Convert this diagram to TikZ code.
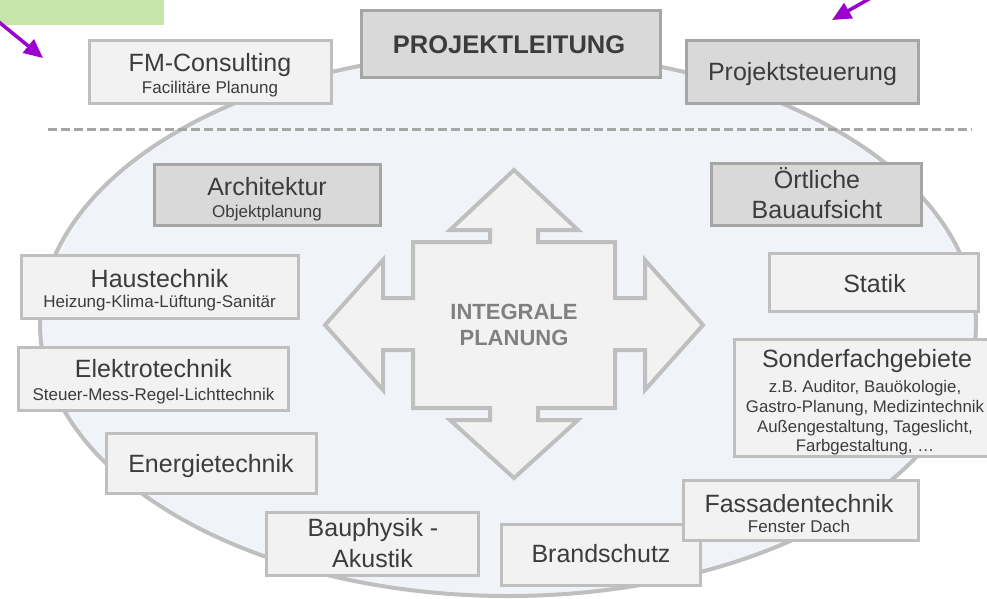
\documentclass[tikz,border=0pt]{standalone}
\usepackage{fontspec}
\setmainfont{Liberation Sans}
\usetikzlibrary{arrows.meta}
\definecolor{lfill}{HTML}{F2F2F2}
\definecolor{lbord}{HTML}{BFBFBF}
\definecolor{dfill}{HTML}{D9D9D9}
\definecolor{dbord}{HTML}{A6A6A6}
\definecolor{ellf}{HTML}{F0F4F9}
\definecolor{ellb}{HTML}{BFBFBF}
\definecolor{txt}{HTML}{3C3C3C}
\definecolor{itxt}{HTML}{808080}
\definecolor{grn}{HTML}{C6E6A9}
\definecolor{purp}{HTML}{9B00CF}
\begin{document}
\begin{tikzpicture}[x=1pt,y=-1pt,
  lbox/.style={draw=lbord, fill=lfill, line width=3pt, inner sep=0pt, rectangle},
  dbox/.style={draw=dbord, fill=dfill, line width=3pt, inner sep=0pt, rectangle},
  ttl/.style={anchor=base, text=txt, font=\fontsize{25}{30}\selectfont, inner sep=0pt},
  subt/.style={anchor=base, text=txt, font=\fontsize{17}{20}\selectfont, inner sep=0pt},
  subs/.style={anchor=base, text=txt, font=\fontsize{16.8}{19}\selectfont, inner sep=0pt},
  ptr/.style={draw=purp, line width=3.5pt, -{Triangle[length=19pt,width=17pt]}},
  dashline/.style={draw=dbord, line width=3pt, dash pattern=on 9pt off 4pt}]
\useasboundingbox (0,0) rectangle (987,598);
\begin{scope}
\clip (0,0) rectangle (987,598);
\fill[white] (0,0) rectangle (987,598);
% big ellipse
\path[draw=ellb, fill=ellf, line width=4pt] (508,324) ellipse [x radius=468pt, y radius=272pt];
% dashed separator
\coordinate (dA) at (48,129);
\coordinate (dB) at (972,129);
\draw[dashline] (dA) -- (dB);
% green label box and pointers
\fill[grn] (0,0) rectangle (164,25);
\coordinate (p1s) at (-6,18);
\coordinate (p1e) at (43,58);
\draw[ptr] (p1s) -- (p1e);
\coordinate (p2s) at (876,-5);
\coordinate (p2e) at (832,20);
\draw[ptr] (p2s) -- (p2e);
% central cross
\path[draw=lbord, fill=lfill, line width=4pt, line join=miter]
  (514,170) -- (578,230) -- (538,230) -- (538,242) -- (615,242) -- (615,298) -- (645,298) -- (645,260)
  -- (703,325) -- (645,390) -- (645,350) -- (615,350) -- (615,408) -- (538,408) -- (538,420) -- (578,420)
  -- (514,478) -- (450,420) -- (490,420) -- (490,408) -- (413,408) -- (413,350) -- (383,350) -- (383,390)
  -- (325,325) -- (383,260) -- (383,298) -- (413,298) -- (413,242) -- (490,242) -- (490,230) -- (450,230) -- cycle;
\node[anchor=base, inner sep=0pt, text=itxt, font=\fontsize{22}{26}\selectfont\bfseries] (ip1) at (514,319) {INTEGRALE};
\node[anchor=base, inner sep=0pt, text=itxt, font=\fontsize{22}{26}\selectfont\bfseries] (ip2) at (514,345) {PLANUNG};
% top boxes
\node[lbox, minimum width=242pt, minimum height=63pt] (fm) at (210.5,72) {};
\node[ttl] (fm-t) at (210,71) {FM-Consulting};
\node[subt] (fm-s) at (210,93) {Facilitäre Planung};
\node[dbox, minimum width=299pt, minimum height=67pt] (pl) at (511,44) {};
\node[anchor=base, inner sep=0pt, text=txt, font=\fontsize{25.5}{30}\selectfont\bfseries] (pl-t) at (509,53) {PROJEKTLEITUNG};
\node[dbox, minimum width=232pt, minimum height=63pt] (ps) at (802.5,72) {};
\node[ttl] (ps-t) at (802.5,80) {Projektsteuerung};
% inner boxes
\node[dbox, minimum width=226pt, minimum height=61pt] (ar) at (267.5,195) {};
\node[ttl] (ar-t) at (267,195) {Architektur};
\node[subt] (ar-s) at (267,217) {Objektplanung};
\node[dbox, minimum width=210pt, minimum height=62pt] (oe) at (816.5,194.5) {};
\node[ttl] (oe-t1) at (817,188) {Örtliche};
\node[ttl] (oe-t2) at (817,218) {Bauaufsicht};
\node[lbox, minimum width=277pt, minimum height=63pt] (ha) at (160,287) {};
\node[ttl] (ha-t) at (159.5,287) {Haustechnik};
\node[subt] (ha-s) at (159.5,307) {Heizung-Klima-Lüftung-Sanitär};
\node[lbox, minimum width=270pt, minimum height=63pt] (el) at (153.5,379) {};
\node[ttl] (el-t) at (153.5,377) {Elektrotechnik};
\node[subt] (el-s) at (153.5,400) {Steuer-Mess-Regel-Lichttechnik};
\node[lbox, minimum width=210pt, minimum height=60pt] (en) at (211.5,463.5) {};
\node[ttl] (en-t) at (211,472) {Energietechnik};
\node[lbox, minimum width=212pt, minimum height=63pt] (bp) at (372.5,544) {};
\node[ttl] (bp-t1) at (373,536) {Bauphysik -};
\node[ttl] (bp-t2) at (372.5,567) {Akustik};
\node[lbox, minimum width=199pt, minimum height=61pt] (br) at (601,555) {};
\node[ttl] (br-t) at (601,562) {Brandschutz};
\node[lbox, minimum width=235pt, minimum height=60pt] (fa) at (801,510.5) {};
\node[ttl] (fa-t) at (799,512) {Fassadentechnik};
\node[subt] (fa-s) at (799,532) {Fenster Dach};
\node[lbox, minimum width=209pt, minimum height=58pt] (st) at (874,282.5) {};
\node[ttl] (st-t) at (874.5,292) {Statik};
\node[lbox, minimum width=259pt, minimum height=117pt] (so) at (864,398) {};
\node[ttl] (so-t) at (867,367) {Sonderfachgebiete};
\node[subs] (so-s1) at (865,392) {z.B. Auditor, Bauökologie,};
\node[subs] (so-s2) at (865,412) {Gastro-Planung, Medizintechnik};
\node[subs] (so-s3) at (865,432) {Außengestaltung, Tageslicht,};
\node[subs] (so-s4) at (865,451) {Farbgestaltung, \dots};
\end{scope}
\end{tikzpicture}
\end{document}
